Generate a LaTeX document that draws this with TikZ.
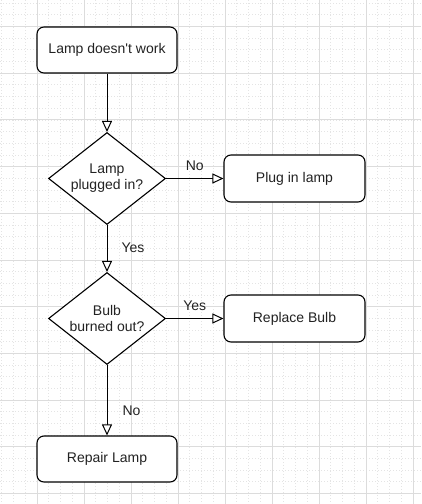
\documentclass[tikz,border=0pt]{standalone}
\usepackage{fontspec}
\setmainfont{Liberation Sans}[Ligatures=TeXOff]
\usetikzlibrary{arrows.meta,shapes.geometric}
\newcommand{\fs}{\fontsize{14pt}{16pt}\selectfont}
\definecolor{gridmajor}{HTML}{DCDCDC}
\definecolor{gridminor}{HTML}{E4E4E4}
\definecolor{txt}{HTML}{222222}
\begin{document}
\begin{tikzpicture}[x=1pt,y=-1pt,
  minorline/.style={gridminor, line width=0.8pt, dash pattern=on 1pt off 2pt},
  majorline/.style={gridmajor, line width=0.9pt},
  box/.style={draw, line width=1.1pt, rounded corners=7pt, minimum width=140pt, minimum height=46pt, inner sep=0pt, font=\fs, text=txt, fill=white},
  dia/.style={draw, shape=diamond, line width=1.1pt, minimum width=117pt, minimum height=92pt, inner sep=0pt, fill=white},
  dlab/.style={align=center, font=\fs, text=txt, inner sep=0pt},
  conn/.style={line width=1pt, -{Triangle[open, length=11pt, width=10pt, fill=white]}},
  elab/.style={font=\fs, text=txt, inner sep=0pt, text height=10pt, text depth=3pt}
]
\useasboundingbox (0,0) rectangle (421,504);
\fill[white] (0,0) rectangle (421,504);
% grid
\foreach \i in {0,...,37} {
  \draw[minorline] ({-10+\i*11.75},0) -- ({-10+\i*11.75},504);
}
\foreach \i in {0,...,45} {
  \draw[minorline] (0,{-20.2+\i*11.675}) -- (421,{-20.2+\i*11.675});
}
\foreach \i in {0,...,9} {
  \draw[majorline] ({-10+\i*47},0) -- ({-10+\i*47},504);
}
\foreach \i in {0,...,11} {
  \draw[majorline] (0,{-20.2+\i*46.7}) -- (421,{-20.2+\i*46.7});
}
% nodes
\node[box] (start) at (107,50) {Lamp doesn't work};
\node[dia, label={[dlab]center:Lamp\\plugged in?}] (d1) at (107,178.5) {};
\node[box, minimum width=141pt, minimum height=47pt] (plug) at (294.5,178.5) {Plug in lamp};
\node[dia, label={[dlab]center:Bulb\\burned out?}] (d2) at (107,318.5) {};
\node[box, minimum width=141pt, minimum height=47pt] (bulb) at (294.5,318.5) {Replace Bulb};
\node[box] (repair) at (107,459) {Repair Lamp};
% connectors
\draw[conn] (start.south) -- (d1.north);
\draw[conn] (d1.east) -- node[elab, midway, yshift=12pt] {No} (plug.west);
\draw[conn] (d1.south) -- node[elab, midway, anchor=west, xshift=14pt] {Yes} (d2.north);
\draw[conn] (d2.east) -- node[elab, midway, yshift=12pt] {Yes} (bulb.west);
\draw[conn] (d2.south) -- node[elab, pos=0.67, anchor=west, xshift=15pt] {No} (repair.north);
\end{tikzpicture}
\end{document}
